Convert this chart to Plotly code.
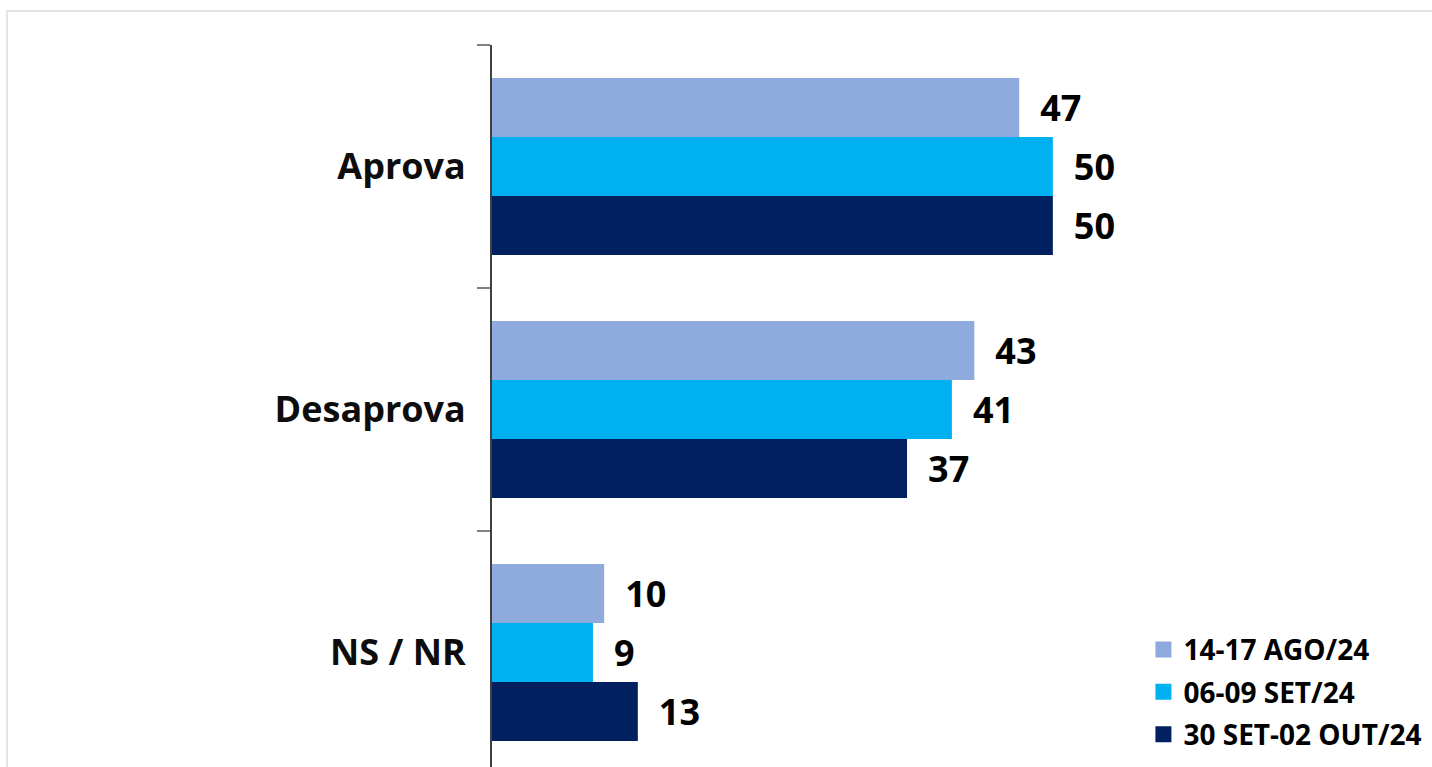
import plotly.graph_objects as go

categories = ["Aprova", "Desaprova", "NS / NR"]
series_names = ["14-17 AGO/24", "06-09 SET/24", "30 SET-02 OUT/24"]
ago = [47, 43, 10]
set_ = [50, 41, 9]
out = [50, 37, 13]
series_values = [ago, set_, out]
colors = ["#8FAADC", "#00B0F0", "#002060"]

FONT = "Open Sans"

fig = go.Figure()
for name, vals, col in zip(series_names, series_values, colors):
    fig.add_trace(go.Bar(
        y=categories, x=vals, orientation="h", name=name,
        marker=dict(color=col, line=dict(width=0)),
        text=vals, texttemplate="\u2002%{x}", textposition="outside",
        textfont=dict(family=FONT, size=36, color="#000000", weight="bold"),
        cliponaxis=False, showlegend=False, legendgroup=name,
    ))
for name, col in zip(series_names, colors):
    fig.add_trace(go.Scatter(
        x=[None], y=[None], mode="markers", name=name, legendgroup=name,
        marker=dict(symbol="square", size=16, color=col),
        showlegend=True,
    ))

fig.update_layout(
    width=1432, height=767,
    margin=dict(l=492, r=0, t=45, b=0, pad=0),
    paper_bgcolor="white", plot_bgcolor="white",
    barmode="group", bargap=0.272, bargroupgap=0,
    showlegend=True,
    legend=dict(
        x=0.693, xanchor="left", y=0.197, yanchor="top",
        font=dict(family=FONT, size=28, color="#000000", weight="bold"),
        tracegroupgap=3, bgcolor="rgba(0,0,0,0)", itemclick=False,
    ),
    xaxis=dict(range=[0, 83.8], visible=False, fixedrange=True),
    yaxis=dict(
        type="category", categoryorder="array", categoryarray=categories,
        range=[2.471, -0.5], tickson="boundaries",
        ticks="outside", ticklen=13, tickwidth=2, tickcolor="#808080",
        showline=True, linecolor="#404040", linewidth=2,
        showgrid=False, zeroline=False, ticklabelstandoff=17,
        tickfont=dict(family=FONT, size=36, color="#0D0D0D", weight="bold"),
        fixedrange=True,
    ),
    shapes=[dict(type="rect", xref="paper", yref="paper",
                 x0=-0.516, x1=1.05, y0=-0.05, y1=1.0471,
                 line=dict(color="#E3E3E3", width=2), fillcolor="rgba(0,0,0,0)", layer="below")],
)

fig.write_html(
    "out.html",
    config={"displayModeBar": False},
    post_script="document.body.style.margin='0';document.body.style.overflow='hidden';",
)
